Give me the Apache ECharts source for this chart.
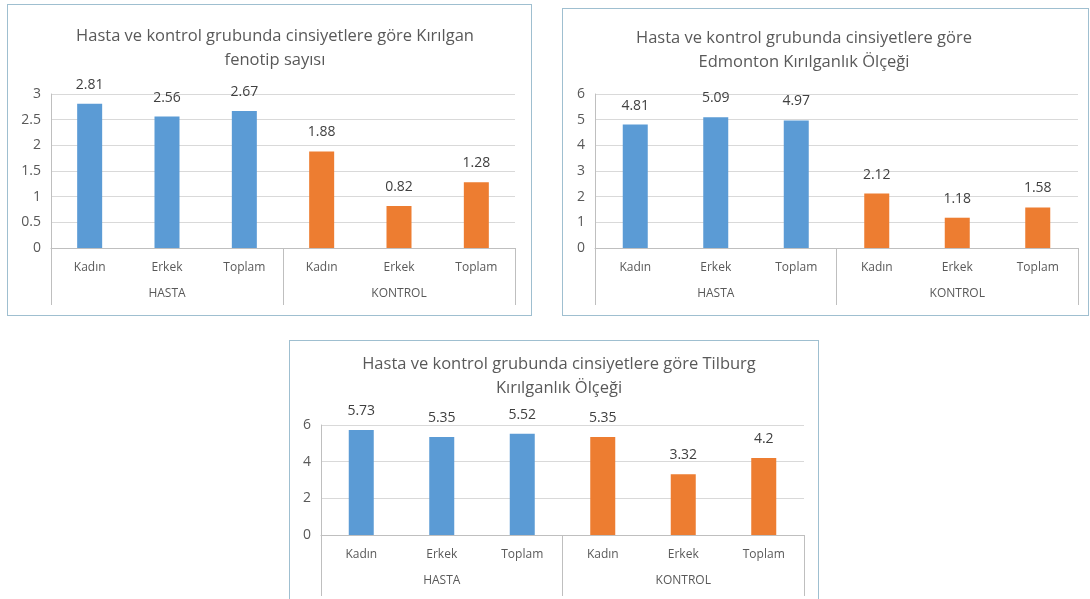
<!DOCTYPE html>
<html>
<head>
<meta charset="utf-8">
<script src="https://cdn.jsdelivr.net/npm/echarts@6/dist/echarts.min.js"></script>
<style>
  body { margin: 0; background: #fff; width: 1090px; height: 599px; overflow: hidden; position: relative; }
  .box { position: absolute; border: 1px solid #9fbfd0; box-sizing: border-box; }
</style>
</head>
<body>
<div id="c1" class="box" style="left:7px;top:4px;width:525px;height:312px;"></div>
<div id="c2" class="box" style="left:562px;top:8px;width:527px;height:308px;"></div>
<div id="c3" class="box" style="left:289px;top:340px;width:530px;height:262px;"></div>
<script>
// kategoriler ve gruplar
var categories = ['Kadın', 'Erkek', 'Toplam', 'Kadın', 'Erkek', 'Toplam'];
var groups = ['HASTA', 'KONTROL'];
var groupOf = [0, 0, 0, 1, 1, 1];

// degerler
var fenotipValues = [2.81, 2.56, 2.67, 1.88, 0.82, 1.28];
var edmontonValues = [4.81, 5.09, 4.97, 2.12, 1.18, 1.58];
var tilburgValues = [5.73, 5.35, 5.52, 5.35, 3.32, 4.2];

var colors = ['#5B9BD5', '#ED7D31'];
var fontFam = '"Open Sans", "Noto Sans", sans-serif';

function drawChart(id, cfg) {
	var myChart = echarts.init(document.getElementById(id));
	var data = [];
	for (var i = 0; i < cfg.values.length; i++) {
		data.push({ value: cfg.values[i], itemStyle: { color: colors[groupOf[i]] } });
	}
	var option = {
		animation: false,
		title: {
			text: cfg.title,
			left: cfg.titleLeft,
			top: cfg.titleTop,
			textAlign: 'center',
			textStyle: { fontFamily: fontFam, fontSize: 16.5, fontWeight: 'normal', color: '#595959', lineHeight: 24 }
		},
		grid: cfg.grid,
		xAxis: [{
			type: 'category',
			data: categories,
			axisLine: { lineStyle: { color: '#bfbfbf' } },
			axisTick: { show: false },
			axisLabel: { margin: 14, fontFamily: fontFam, fontSize: 12, color: '#595959' }
		}, {
			type: 'category',
			data: groups,
			position: 'bottom',
			axisLine: { show: false },
			axisTick: { show: true, length: cfg.sepLen, lineStyle: { color: '#bfbfbf' } },
			axisLabel: { margin: 40, fontFamily: fontFam, fontSize: 12, color: '#595959' }
		}],
		yAxis: {
			type: 'value',
			min: 0,
			max: cfg.max,
			interval: cfg.interval,
			axisLine: { show: true, lineStyle: { color: '#bfbfbf' } },
			axisTick: { show: false },
			splitLine: { lineStyle: { color: '#d9d9d9' } },
			axisLabel: { margin: 10, fontFamily: fontFam, fontSize: 14, color: '#595959' }
		},
		series: [{
			type: 'bar',
			xAxisIndex: 0,
			data: data,
			barWidth: 25,
			label: { show: true, position: 'top', distance: 12, fontFamily: fontFam, fontSize: 14, color: '#404040' }
		}]
	};
	myChart.setOption(option);
}

drawChart('c1', {
	title: 'Hasta ve kontrol grubunda cinsiyetlere göre Kırılgan\nfenotip sayısı',
	titleLeft: 262, titleTop: 14,
	grid: { left: 43, right: 16, top: 89, bottom: 67 },
	max: 3, interval: 0.5, sepLen: 57,
	values: fenotipValues
});

drawChart('c2', {
	title: 'Hasta ve kontrol grubunda cinsiyetlere göre\nEdmonton Kırılganlık Ölçeği',
	titleLeft: 236, titleTop: 12,
	grid: { left: 32, right: 10, top: 85, bottom: 67 },
	max: 6, interval: 1, sepLen: 57,
	values: edmontonValues
});

drawChart('c3', {
	title: 'Hasta ve kontrol grubunda cinsiyetlere göre Tilburg\nKırılganlık Ölçeği',
	titleLeft: 264, titleTop: 6,
	grid: { left: 31, right: 14, top: 84, bottom: 66 },
	max: 6, interval: 2, sepLen: 61,
	values: tilburgValues
});
</script>
</body>
</html>
